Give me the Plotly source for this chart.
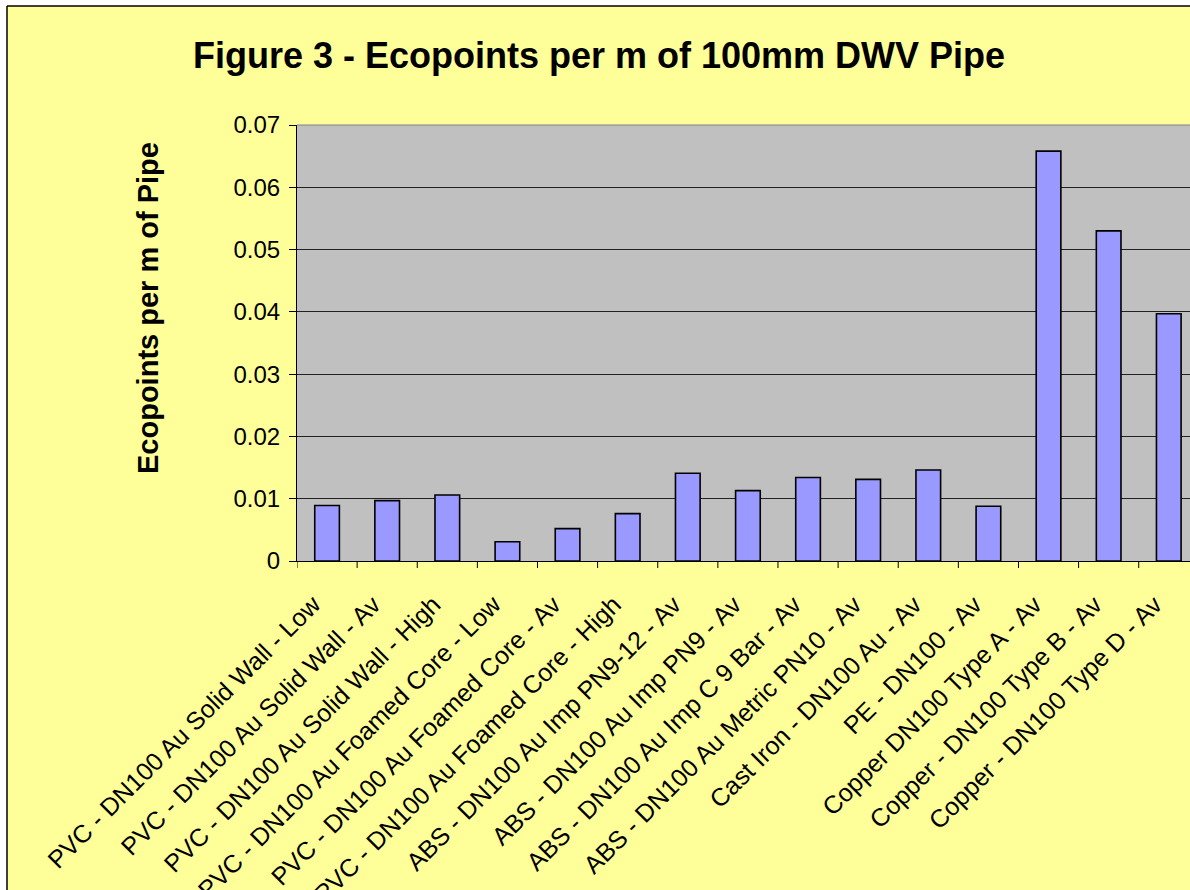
import plotly.graph_objects as go

categories = [
    "PVC - DN100 Au Solid Wall - Low",
    "PVC - DN100 Au Solid Wall - Av",
    "PVC - DN100 Au Solid Wall - High",
    "PVC - DN100 Au Foamed Core - Low",
    "PVC - DN100 Au Foamed Core - Av",
    "PVC - DN100 Au Foamed Core - High",
    "ABS - DN100 Au Imp PN9-12 - Av",
    "ABS - DN100 Au Imp PN9 - Av",
    "ABS - DN100 Au Imp C 9 Bar - Av",
    "ABS - DN100 Au Metric PN10 - Av",
    "Cast Iron - DN100 Au - Av",
    "PE - DN100 - Av",
    "Copper DN100 Type A - Av",
    "Copper - DN100 Type B - Av",
    "Copper - DN100 Type D - Av",
]
values = [0.0089, 0.0097, 0.0106, 0.0031, 0.0052, 0.0076,
          0.0141, 0.0113, 0.0134, 0.0131, 0.0146, 0.0088,
          0.0658, 0.0530, 0.0397]
y_ticks = [0, 0.01, 0.02, 0.03, 0.04, 0.05, 0.06, 0.07]
y_tick_labels = ["0", "0.01", "0.02", "0.03", "0.04", "0.05", "0.06", "0.07"]

title_text = "Figure 3 - Ecopoints per m of 100mm DWV Pipe"
y_title_text = "Ecopoints per m of Pipe"

W, H = 1190, 890
L, R, T, B = 297, 0, 125, 329
pw = W - L - R
ph = H - T - B

def px_x(p):
    return (p - L) / pw

def px_y(p):
    return (H - B - p) / ph

FONT = "Liberation Sans, Arial, sans-serif"

fig = go.Figure()
fig.add_trace(go.Bar(
    x=list(range(len(categories))),
    y=values,
    width=0.41,
    marker=dict(color="#9999FF", line=dict(color="#000000", width=1.6)),
    hoverinfo="y",
))

fig.update_layout(
    width=W, height=H,
    margin=dict(l=L, r=R, t=T, b=B, pad=0, autoexpand=False),
    paper_bgcolor="#FFFF99",
    plot_bgcolor="#C0C0C0",
    showlegend=False,
    font=dict(family=FONT, color="#000000"),
    title=dict(
        text="<b>" + title_text + "</b>",
        font=dict(family=FONT, size=36, color="#000000"),
        xref="paper", x=px_x(599), xanchor="center",
        yref="container", y=1 - 55 / H, yanchor="middle",
    ),
)

fig.update_xaxes(
    type="linear",
    automargin=False,
    range=[-0.5, 14.353],
    tickmode="array",
    tickvals=list(range(len(categories))),
    ticktext=categories,
    tickangle=-45,
    tickfont=dict(family=FONT, size=25, color="#000000"),
    ticklabelstandoff=18,
    ticklabelshift=-14,
    showgrid=False,
    zeroline=False,
    showline=True, linecolor="#000000", linewidth=1,
    ticks="",
)

fig.update_yaxes(
    automargin=False,
    range=[0, 0.07],
    tickmode="array",
    tickvals=y_ticks,
    ticktext=y_tick_labels,
    tickfont=dict(family=FONT, size=24, color="#000000"),
    ticklabelstandoff=4,
    showgrid=True, gridcolor="#222222", gridwidth=1,
    zeroline=False,
    showline=True, linecolor="#000000", linewidth=1,
    ticks="outside", ticklen=7, tickcolor="#000000", tickwidth=1,
)

# category boundary tick marks below the x axis
for i in range(len(categories) + 1):
    xb = i - 0.5
    if xb > 14.353:
        break
    fig.add_shape(type="line", xref="x", yref="paper",
                  x0=xb, x1=xb, y0=0, y1=px_y(561 + 7),
                  line=dict(color="#000000", width=1))

# gray plot-area top border
fig.add_shape(type="line", xref="paper", yref="paper", x0=0, x1=1, y0=1, y1=1,
              line=dict(color="#808080", width=1))

# white strips and black frame of the chart area
fig.add_shape(type="rect", xref="paper", yref="paper",
              x0=px_x(0), x1=px_x(7), y0=px_y(H), y1=px_y(0),
              fillcolor="#FFFFFF", line=dict(width=0), layer="above")
fig.add_shape(type="rect", xref="paper", yref="paper",
              x0=px_x(0), x1=px_x(W), y0=px_y(6), y1=px_y(0),
              fillcolor="#FFFFFF", line=dict(width=0), layer="above")
fig.add_shape(type="line", xref="paper", yref="paper",
              x0=px_x(7), x1=px_x(7), y0=px_y(H), y1=px_y(6),
              line=dict(color="#000000", width=1.5))
fig.add_shape(type="line", xref="paper", yref="paper",
              x0=px_x(7), x1=px_x(W), y0=px_y(6), y1=px_y(6),
              line=dict(color="#000000", width=1.5))

fig.add_annotation(
    text="<b>" + y_title_text + "</b>",
    xref="paper", yref="paper",
    x=px_x(148), y=px_y(308),
    xanchor="center", yanchor="middle",
    textangle=-90, showarrow=False,
    font=dict(family=FONT, size=29, color="#000000"),
)

fig.write_html("out.html", config={"displayModeBar": False},
               post_script="document.body.style.margin='0';document.body.style.overflow='hidden';")
